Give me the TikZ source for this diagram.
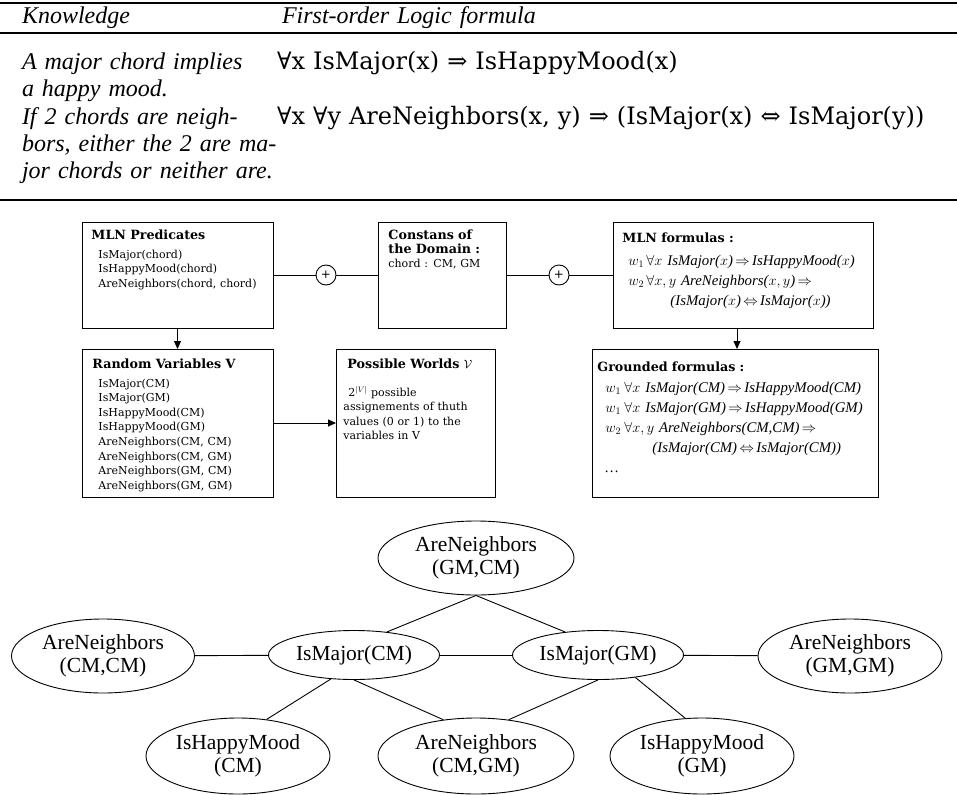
\documentclass[tikz,border=0pt]{standalone}
\usepackage{fontspec}
\usepackage{amssymb}
\usetikzlibrary{shapes.geometric}
\usetikzlibrary{arrows.meta}
\newfontfamily\boxfont{DejaVu Serif}
\newfontfamily\graphfont{Liberation Serif}
\newfontfamily\formfont{DejaVu Serif}
\newcommand{\kwidth}{226pt}
\tikzstyle{tabtext}=[inner sep=0, outer sep=0, anchor=base west, text width=700pt, align=left,
                     font=\graphfont\itshape\fontsize{24}{27}\selectfont]
\tikzstyle{tabform}=[tabtext, font=\formfont\fontsize{24}{27}\selectfont]
\tikzstyle{mlnbox}=[draw, rectangle, inner sep=0, outer sep=0, anchor=north west]
\tikzstyle{boxtitle}=[inner sep=0, anchor=base west, text width=250pt, align=left,
                      font=\boxfont\bfseries\fontsize{12.7}{13.5}\selectfont]
\tikzstyle{boxtext}=[inner sep=0, anchor=base west, text width=250pt, align=left,
                     font=\boxfont\fontsize{11}{14.6}\selectfont]
\tikzstyle{formtext}=[inner sep=0, anchor=base west, text width=300pt, align=left,
                      font=\graphfont\itshape\fontsize{14.8}{20}\selectfont]
\tikzstyle{plus}=[draw, circle, minimum size=20pt, inner sep=0, font=\boxfont\fontsize{12}{12}\selectfont]
\tikzstyle{gnode}=[draw, ellipse, inner sep=0, align=center,
                   font=\graphfont\fontsize{21.5}{23.5}\selectfont]
\tikzstyle{bignode}=[gnode, minimum width=184pt, minimum height=74pt]
\tikzstyle{ismajor}=[gnode, minimum width=171pt, minimum height=49pt]

\begin{document}
\begin{tikzpicture}[x=1pt, y=-1pt, line width=0.9pt, >={Triangle[length=8pt, width=7pt]}]
    \useasboundingbox (0,0) rectangle (957,794);

    % table of knowledge and formulas
    \draw[line width=1.6pt] (0,3) -- (957,3);
    \draw[line width=1.3pt] (0,33) -- (957,33);
    \draw[line width=1.6pt] (0,200) -- (957,200);
    \node[tabtext] (knowhead) at (22,24) {Knowledge};
    \node[tabtext] (folhead) at (282,24) {First-order Logic formula};
    \node[tabtext] (knowa) at (22,70)
        {\makebox[\kwidth][s]{A major chord implies}\\a happy mood.};
    \node[tabtext] (knowb) at (22,125)
        {\makebox[\kwidth][s]{If 2 chords are neigh-}\\\makebox[\kwidth][s]{bors, either the 2 are ma-}\\jor chords or neither are.};
    \node[tabform] (fola) at (277,70) {∀x IsMajor(x) ⇒ IsHappyMood(x)};
    \node[tabform] (folb) at (277,125) {∀x ∀y AreNeighbors(x, y) ⇒ (IsMajor(x) ⇔ IsMajor(y))};

    % MLN boxes
    \node[mlnbox, minimum width=191pt, minimum height=106pt] (pred) at (82,222) {};
    \node[mlnbox, minimum width=128pt, minimum height=106pt] (const) at (378,222) {};
    \node[mlnbox, minimum width=260pt, minimum height=106pt] (mlnf) at (613,222) {};
    \node[mlnbox, minimum width=191pt, minimum height=148pt] (randv) at (82,349) {};
    \node[mlnbox, minimum width=159pt, minimum height=148pt] (worlds) at (336,349) {};
    \node[mlnbox, minimum width=286pt, minimum height=148pt] (ground) at (592,349) {};

    \node[boxtitle] (predtitle) at ([shift={(9,18)}]pred.north west) {MLN Predicates};
    \node[boxtext] (predbody) at ([shift={(16,36)}]pred.north west)
        {IsMajor(chord)\\IsHappyMood(chord)\\AreNeighbors(chord, chord)};
    \node[boxtitle] (consttitle) at ([shift={(10,18)}]const.north west) {Constans of\\the Domain :};
    \node[boxtext] (constbody) at ([shift={(10,45)}]const.north west) {chord : CM, GM};
    \node[boxtitle] (mlnftitle) at ([shift={(9,20)}]mlnf.north west) {MLN formulas :};
    \node[formtext] (mlnfbody) at ([shift={(15,43)}]mlnf.north west)
        {\makebox[16pt][l]{$w_1$}\hspace{2pt}$\forall x$ IsMajor($x$)$\,\Rightarrow\,$IsHappyMood($x$)\\
         \makebox[16pt][l]{$w_2$}\hspace{2pt}$\forall x, y$ AreNeighbors($x, y$)$\,\Rightarrow$\\
         \hspace*{42pt}(IsMajor($x$)$\,\Leftrightarrow\,$IsMajor($x$))};

    \node[boxtitle] (randvtitle) at ([shift={(10,19)}]randv.north west) {Random Variables V};
    \node[boxtext] (randvbody) at ([shift={(16,38)}]randv.north west)
        {IsMajor(CM)\\IsMajor(GM)\\IsHappyMood(CM)\\IsHappyMood(GM)\\
         AreNeighbors(CM, CM)\\AreNeighbors(CM, GM)\\AreNeighbors(GM, CM)\\AreNeighbors(GM, GM)};
    \node[boxtitle] (worldstitle) at ([shift={(11,19)}]worlds.north west) {Possible Worlds $\mathcal{V}$};
    \node[boxtext] (worldsbody) at ([shift={(7,47)}]worlds.north west)
        {\hspace*{5pt}2$^{|V|}$ possible\\assignements of thuth\\values (0 or 1) to the\\variables in V};
    \node[boxtitle] (groundtitle) at ([shift={(5,22)}]ground.north west) {Grounded formulas :};
    \node[formtext] (groundbody) at ([shift={(13,43)}]ground.north west)
        {\makebox[17pt][l]{$w_1$}\hspace{2pt}$\forall x$ IsMajor(CM)$\,\Rightarrow\,$IsHappyMood(CM)\\
         \makebox[17pt][l]{$w_1$}\hspace{2pt}$\forall x$ IsMajor(GM)$\,\Rightarrow\,$IsHappyMood(GM)\\
         \makebox[17pt][l]{$w_2$}\hspace{2pt}$\forall x, y$ AreNeighbors(CM,CM)$\,\Rightarrow$\\
         \hspace*{47pt}(IsMajor(CM)$\,\Leftrightarrow\,$IsMajor(CM))\\
         \ldots};

    \node[plus] (plusa) at (326,275) {+};
    \node[plus] (plusb) at (559,275) {+};
    \draw (pred.east) -- (plusa.west);
    \draw (plusa.east) -- (const.west);
    \draw (const.east) -- (plusb.west);
    \draw (plusb.east) -- (mlnf.west);
    \draw[->] (pred.south) -- (randv.north);
    \draw[->] (randv.east) -- (worlds.west);
    \draw[->] ([xshift=-6pt]mlnf.south) -- ([xshift=-6pt]mlnf.south |- ground.north);

    % ground network
    \node[bignode, minimum width=196pt] (angc) at (476,558) {AreNeighbors\\(GM,CM)};
    \node[bignode, minimum width=183pt] (ancc) at (103,656) {AreNeighbors\\(CM,CM)};
    \node[ismajor] (imcm) at (354,655) {IsMajor(CM)};
    \node[ismajor] (imgm) at (598,655) {IsMajor(GM)};
    \node[bignode] (angg) at (850,656) {AreNeighbors\\(GM,GM)};
    \node[bignode, minimum height=76pt] (hmcm) at (238,756) {IsHappyMood\\(CM)};
    \node[bignode, minimum width=196pt, minimum height=76pt] (ancg) at (476,756) {AreNeighbors\\(CM,GM)};
    \node[bignode, minimum height=76pt] (hmgm) at (702,756) {IsHappyMood\\(GM)};

    \draw (ancc) -- (imcm);
    \draw (imcm) -- (imgm);
    \draw (imgm) -- (angg);
    \draw (angc.south) -- (imcm.35);
    \draw (angc.south) -- (imgm.145);
    \draw (imcm.226) -- (hmcm.52);
    \draw (imcm.south) -- (ancg.132);
    \draw (imgm.south) -- (ancg.48);
    \draw (imgm.-31) -- (hmgm.114);
\end{tikzpicture}
\end{document}
